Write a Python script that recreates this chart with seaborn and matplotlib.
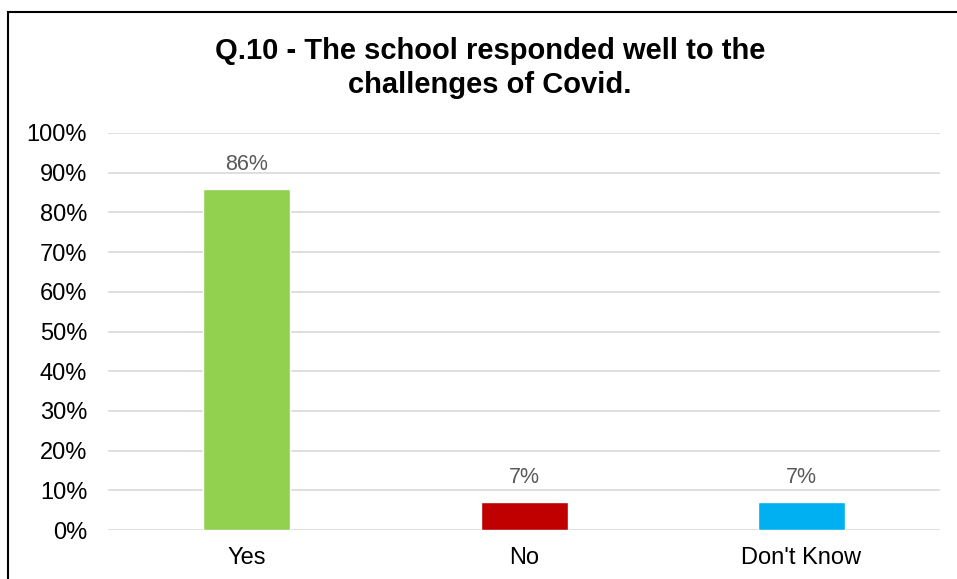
import matplotlib
matplotlib.use("Agg")
import matplotlib.pyplot as plt
import seaborn as sns
import pandas as pd
from matplotlib.patches import Rectangle

# Data
answers = ["Yes", "No", "Don't Know"]
shares = [86, 7, 7]
bar_colors = ["#92D050", "#C00000", "#00B0F0"]
y_ticks = [0, 10, 20, 30, 40, 50, 60, 70, 80, 90, 100]

df = pd.DataFrame({"Answer": answers, "Share": shares})

sns.set_style("white")
plt.rcParams["font.family"] = ["Liberation Sans", "DejaVu Sans"]

fig = plt.figure(figsize=(9.57, 5.79), dpi=100)
ax = fig.add_axes([0.1129, 0.0846, 0.8694, 0.6857])

sns.barplot(data=df, x="Answer", y="Share", hue="Answer", palette=bar_colors,
            width=0.314, saturation=1, legend=False, ax=ax, zorder=3)

ax.set_ylim(0, 100)
ax.set_xlim(-0.5, 2.5)
ax.set_yticks(y_ticks)
ax.set_yticklabels([f"{t}%" for t in y_ticks])
ax.tick_params(axis="x", labelsize=17, pad=12, length=0, labelcolor="black")
ax.tick_params(axis="y", labelsize=17, pad=15, length=0, labelcolor="black")
ax.set_xlabel("")
ax.set_ylabel("")
ax.grid(axis="y", color="#D9D9D9", linewidth=1.2, zorder=0)
ax.set_axisbelow(True)
for s in ax.spines.values():
    s.set_visible(False)

# data labels
for i, v in enumerate(shares):
    ax.annotate(f"{v}%", (i, v), xytext=(0, 10), textcoords="offset points",
                ha="center", va="bottom", fontsize=15.5, color="#595959")

fig.text(0.512, 1 - 68 / 579, "Q.10 - The school responded well to the\nchallenges of Covid.",
         ha="center", va="center", fontsize=21, fontweight="bold",
         color="black", linespacing=1.28)

# chart border (cropped on right and bottom)
fig.patches.append(Rectangle((8 / 957, -0.05), 1.2, 1 - 12 / 579 + 0.05,
                             transform=fig.transFigure, fill=False,
                             edgecolor="black", linewidth=1.5))

fig.savefig("out.png", dpi=100)
